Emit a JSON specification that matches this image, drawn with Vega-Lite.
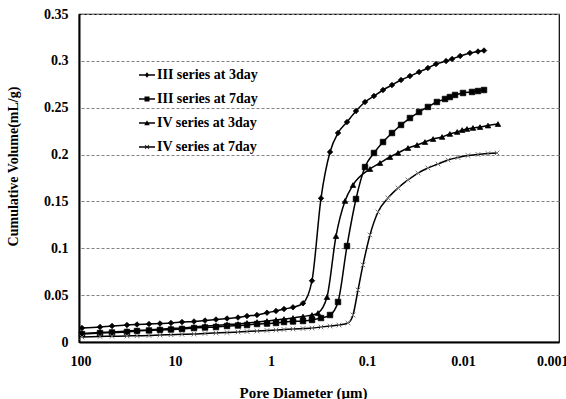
{
  "$schema": "https://vega.github.io/schema/vega-lite/v6.json",
  "width": 480,
  "height": 328,
  "autosize": {"type": "none"},
  "padding": {"left": 79, "top": 14, "right": 7, "bottom": 57},
  "background": "white",
  "config": {
    "font": "Liberation Serif",
    "view": {"stroke": "black", "strokeWidth": 1.2},
    "axis": {
      "labelFont": "Liberation Serif",
      "labelFontWeight": "bold",
      "labelFontSize": 14,
      "labelColor": "black",
      "titleFont": "Liberation Serif",
      "titleFontWeight": "bold",
      "titleFontSize": 15,
      "titleColor": "black",
      "ticks": false,
      "domainColor": "black",
      "domainWidth": 2
    }
  },
  "data": {
    "values": [
      {"s": "III series at 3day", "d": 93.05, "v": 0.0149},
      {"s": "III series at 3day", "d": 60.43, "v": 0.0160},
      {"s": "III series at 3day", "d": 45.32, "v": 0.0171},
      {"s": "III series at 3day", "d": 31.62, "v": 0.0181},
      {"s": "III series at 3day", "d": 24.88, "v": 0.0187},
      {"s": "III series at 3day", "d": 18.66, "v": 0.0192},
      {"s": "III series at 3day", "d": 14.33, "v": 0.0197},
      {"s": "III series at 3day", "d": 11.01, "v": 0.0203},
      {"s": "III series at 3day", "d": 8.456, "v": 0.0213},
      {"s": "III series at 3day", "d": 6.341, "v": 0.0219},
      {"s": "III series at 3day", "d": 4.870, "v": 0.0229},
      {"s": "III series at 3day", "d": 3.741, "v": 0.0240},
      {"s": "III series at 3day", "d": 2.873, "v": 0.0251},
      {"s": "III series at 3day", "d": 2.207, "v": 0.0261},
      {"s": "III series at 3day", "d": 1.778, "v": 0.0277},
      {"s": "III series at 3day", "d": 1.399, "v": 0.0288},
      {"s": "III series at 3day", "d": 1.101, "v": 0.0313},
      {"s": "III series at 3day", "d": 0.8869, "v": 0.0331},
      {"s": "III series at 3day", "d": 0.7320, "v": 0.0352},
      {"s": "III series at 3day", "d": 0.5899, "v": 0.0370},
      {"s": "III series at 3day", "d": 0.4642, "v": 0.0413},
      {"s": "III series at 3day", "d": 0.3741, "v": 0.0654},
      {"s": "III series at 3day", "d": 0.3015, "v": 0.1533},
      {"s": "III series at 3day", "d": 0.2428, "v": 0.2027},
      {"s": "III series at 3day", "d": 0.2004, "v": 0.2230},
      {"s": "III series at 3day", "d": 0.1616, "v": 0.2347},
      {"s": "III series at 3day", "d": 0.1302, "v": 0.2465},
      {"s": "III series at 3day", "d": 0.1049, "v": 0.2561},
      {"s": "III series at 3day", "d": 0.0846, "v": 0.2625},
      {"s": "III series at 3day", "d": 0.0681, "v": 0.2689},
      {"s": "III series at 3day", "d": 0.0549, "v": 0.2742},
      {"s": "III series at 3day", "d": 0.0442, "v": 0.2796},
      {"s": "III series at 3day", "d": 0.0357, "v": 0.2838},
      {"s": "III series at 3day", "d": 0.0287, "v": 0.2881},
      {"s": "III series at 3day", "d": 0.0232, "v": 0.2924},
      {"s": "III series at 3day", "d": 0.0191, "v": 0.2966},
      {"s": "III series at 3day", "d": 0.0150, "v": 0.2998},
      {"s": "III series at 3day", "d": 0.0130, "v": 0.3020},
      {"s": "III series at 3day", "d": 0.0107, "v": 0.3052},
      {"s": "III series at 3day", "d": 0.00846, "v": 0.3084},
      {"s": "III series at 3day", "d": 0.00698, "v": 0.3100},
      {"s": "III series at 3day", "d": 0.00604, "v": 0.3110},

      {"s": "III series at 7day", "d": 93.05, "v": 0.0085},
      {"s": "III series at 7day", "d": 60.43, "v": 0.0096},
      {"s": "III series at 7day", "d": 45.32, "v": 0.0101},
      {"s": "III series at 7day", "d": 31.62, "v": 0.0107},
      {"s": "III series at 7day", "d": 24.88, "v": 0.0117},
      {"s": "III series at 7day", "d": 18.66, "v": 0.0123},
      {"s": "III series at 7day", "d": 14.33, "v": 0.0128},
      {"s": "III series at 7day", "d": 11.01, "v": 0.0133},
      {"s": "III series at 7day", "d": 8.456, "v": 0.0139},
      {"s": "III series at 7day", "d": 6.341, "v": 0.0149},
      {"s": "III series at 7day", "d": 4.870, "v": 0.0155},
      {"s": "III series at 7day", "d": 3.741, "v": 0.0160},
      {"s": "III series at 7day", "d": 2.873, "v": 0.0171},
      {"s": "III series at 7day", "d": 2.207, "v": 0.0176},
      {"s": "III series at 7day", "d": 1.778, "v": 0.0181},
      {"s": "III series at 7day", "d": 1.399, "v": 0.0192},
      {"s": "III series at 7day", "d": 1.101, "v": 0.0197},
      {"s": "III series at 7day", "d": 0.8869, "v": 0.0203},
      {"s": "III series at 7day", "d": 0.7320, "v": 0.0213},
      {"s": "III series at 7day", "d": 0.5899, "v": 0.0219},
      {"s": "III series at 7day", "d": 0.4642, "v": 0.0224},
      {"s": "III series at 7day", "d": 0.3741, "v": 0.0235},
      {"s": "III series at 7day", "d": 0.3015, "v": 0.0256},
      {"s": "III series at 7day", "d": 0.2428, "v": 0.0288},
      {"s": "III series at 7day", "d": 0.2004, "v": 0.0427},
      {"s": "III series at 7day", "d": 0.1616, "v": 0.1024},
      {"s": "III series at 7day", "d": 0.1302, "v": 0.1526},
      {"s": "III series at 7day", "d": 0.1049, "v": 0.1867},
      {"s": "III series at 7day", "d": 0.0846, "v": 0.2017},
      {"s": "III series at 7day", "d": 0.0681, "v": 0.2134},
      {"s": "III series at 7day", "d": 0.0549, "v": 0.2230},
      {"s": "III series at 7day", "d": 0.0442, "v": 0.2316},
      {"s": "III series at 7day", "d": 0.0357, "v": 0.2390},
      {"s": "III series at 7day", "d": 0.0287, "v": 0.2454},
      {"s": "III series at 7day", "d": 0.0232, "v": 0.2508},
      {"s": "III series at 7day", "d": 0.0187, "v": 0.2561},
      {"s": "III series at 7day", "d": 0.0154, "v": 0.2593},
      {"s": "III series at 7day", "d": 0.0137, "v": 0.2614},
      {"s": "III series at 7day", "d": 0.0121, "v": 0.2636},
      {"s": "III series at 7day", "d": 0.0100, "v": 0.2657},
      {"s": "III series at 7day", "d": 0.00806, "v": 0.2668},
      {"s": "III series at 7day", "d": 0.00698, "v": 0.2678},
      {"s": "III series at 7day", "d": 0.00604, "v": 0.2689},

      {"s": "IV series at 3day", "d": 93.05, "v": 0.0091},
      {"s": "IV series at 3day", "d": 60.43, "v": 0.0101},
      {"s": "IV series at 3day", "d": 45.32, "v": 0.0107},
      {"s": "IV series at 3day", "d": 31.62, "v": 0.0117},
      {"s": "IV series at 3day", "d": 24.88, "v": 0.0123},
      {"s": "IV series at 3day", "d": 18.66, "v": 0.0128},
      {"s": "IV series at 3day", "d": 14.33, "v": 0.0139},
      {"s": "IV series at 3day", "d": 11.01, "v": 0.0144},
      {"s": "IV series at 3day", "d": 8.456, "v": 0.0149},
      {"s": "IV series at 3day", "d": 6.341, "v": 0.0160},
      {"s": "IV series at 3day", "d": 4.870, "v": 0.0171},
      {"s": "IV series at 3day", "d": 3.741, "v": 0.0176},
      {"s": "IV series at 3day", "d": 2.873, "v": 0.0187},
      {"s": "IV series at 3day", "d": 2.207, "v": 0.0192},
      {"s": "IV series at 3day", "d": 1.778, "v": 0.0203},
      {"s": "IV series at 3day", "d": 1.399, "v": 0.0213},
      {"s": "IV series at 3day", "d": 1.101, "v": 0.0224},
      {"s": "IV series at 3day", "d": 0.8869, "v": 0.0235},
      {"s": "IV series at 3day", "d": 0.7320, "v": 0.0245},
      {"s": "IV series at 3day", "d": 0.5899, "v": 0.0256},
      {"s": "IV series at 3day", "d": 0.4642, "v": 0.0272},
      {"s": "IV series at 3day", "d": 0.3741, "v": 0.0288},
      {"s": "IV series at 3day", "d": 0.3240, "v": 0.0309},
      {"s": "IV series at 3day", "d": 0.2610, "v": 0.0480},
      {"s": "IV series at 3day", "d": 0.2103, "v": 0.1131},
      {"s": "IV series at 3day", "d": 0.1695, "v": 0.1505},
      {"s": "IV series at 3day", "d": 0.1399, "v": 0.1675},
      {"s": "IV series at 3day", "d": 0.0931, "v": 0.1846},
      {"s": "IV series at 3day", "d": 0.0732, "v": 0.1910},
      {"s": "IV series at 3day", "d": 0.0576, "v": 0.1974},
      {"s": "IV series at 3day", "d": 0.0475, "v": 0.2017},
      {"s": "IV series at 3day", "d": 0.0374, "v": 0.2070},
      {"s": "IV series at 3day", "d": 0.0301, "v": 0.2102},
      {"s": "IV series at 3day", "d": 0.0249, "v": 0.2134},
      {"s": "IV series at 3day", "d": 0.0205, "v": 0.2166},
      {"s": "IV series at 3day", "d": 0.0165, "v": 0.2188},
      {"s": "IV series at 3day", "d": 0.0137, "v": 0.2220},
      {"s": "IV series at 3day", "d": 0.0115, "v": 0.2241},
      {"s": "IV series at 3day", "d": 0.0102, "v": 0.2262},
      {"s": "IV series at 3day", "d": 0.00909, "v": 0.2273},
      {"s": "IV series at 3day", "d": 0.00787, "v": 0.2284},
      {"s": "IV series at 3day", "d": 0.00665, "v": 0.2294},
      {"s": "IV series at 3day", "d": 0.00549, "v": 0.2310},
      {"s": "IV series at 3day", "d": 0.00432, "v": 0.2326},

      {"s": "IV series at 7day", "d": 93.05, "v": 0.0053},
      {"s": "IV series at 7day", "d": 60.43, "v": 0.0059},
      {"s": "IV series at 7day", "d": 45.32, "v": 0.0061},
      {"s": "IV series at 7day", "d": 31.62, "v": 0.0064},
      {"s": "IV series at 7day", "d": 24.88, "v": 0.0067},
      {"s": "IV series at 7day", "d": 18.66, "v": 0.0069},
      {"s": "IV series at 7day", "d": 14.33, "v": 0.0075},
      {"s": "IV series at 7day", "d": 11.01, "v": 0.0078},
      {"s": "IV series at 7day", "d": 8.456, "v": 0.0082},
      {"s": "IV series at 7day", "d": 6.341, "v": 0.0085},
      {"s": "IV series at 7day", "d": 4.870, "v": 0.0091},
      {"s": "IV series at 7day", "d": 3.741, "v": 0.0096},
      {"s": "IV series at 7day", "d": 2.873, "v": 0.0101},
      {"s": "IV series at 7day", "d": 2.207, "v": 0.0107},
      {"s": "IV series at 7day", "d": 1.778, "v": 0.0112},
      {"s": "IV series at 7day", "d": 1.399, "v": 0.0117},
      {"s": "IV series at 7day", "d": 1.101, "v": 0.0123},
      {"s": "IV series at 7day", "d": 0.8869, "v": 0.0128},
      {"s": "IV series at 7day", "d": 0.7320, "v": 0.0133},
      {"s": "IV series at 7day", "d": 0.5899, "v": 0.0139},
      {"s": "IV series at 7day", "d": 0.4642, "v": 0.0144},
      {"s": "IV series at 7day", "d": 0.3741, "v": 0.0149},
      {"s": "IV series at 7day", "d": 0.3015, "v": 0.0160},
      {"s": "IV series at 7day", "d": 0.2428, "v": 0.0171},
      {"s": "IV series at 7day", "d": 0.1957, "v": 0.0181},
      {"s": "IV series at 7day", "d": 0.1577, "v": 0.0203},
      {"s": "IV series at 7day", "d": 0.1399, "v": 0.0288},
      {"s": "IV series at 7day", "d": 0.1241, "v": 0.0555},
      {"s": "IV series at 7day", "d": 0.1101, "v": 0.0822},
      {"s": "IV series at 7day", "d": 0.0931, "v": 0.1142},
      {"s": "IV series at 7day", "d": 0.0768, "v": 0.1387},
      {"s": "IV series at 7day", "d": 0.0604, "v": 0.1537},
      {"s": "IV series at 7day", "d": 0.0475, "v": 0.1643},
      {"s": "IV series at 7day", "d": 0.0374, "v": 0.1729},
      {"s": "IV series at 7day", "d": 0.0294, "v": 0.1803},
      {"s": "IV series at 7day", "d": 0.0232, "v": 0.1857},
      {"s": "IV series at 7day", "d": 0.0182, "v": 0.1899},
      {"s": "IV series at 7day", "d": 0.0143, "v": 0.1942},
      {"s": "IV series at 7day", "d": 0.0113, "v": 0.1969},
      {"s": "IV series at 7day", "d": 0.00887, "v": 0.1990},
      {"s": "IV series at 7day", "d": 0.00698, "v": 0.2001},
      {"s": "IV series at 7day", "d": 0.00549, "v": 0.2011},
      {"s": "IV series at 7day", "d": 0.00442, "v": 0.2017}
    ]
  },
  "encoding": {
    "x": {
      "field": "d",
      "type": "quantitative",
      "scale": {"type": "log", "domain": [0.001, 100], "reverse": true},
      "axis": {
        "title": "Pore Diameter (μm)",
        "values": [100, 10, 1, 0.1, 0.01, 0.001],
        "labelExpr": "format(datum.value, '~g')",
        "labelPadding": 12,
        "labelFlush": true,
        "labelFlushOffset": 9,
        "labelOverlap": false,
        "grid": false,
        "titleX": 224,
        "titleY": 50,
        "titleAlign": "center",
        "titleBaseline": "middle"
      }
    },
    "y": {
      "field": "v",
      "type": "quantitative",
      "scale": {"domain": [0, 0.35]},
      "axis": {
        "title": "Cumulative Volume(mL/g)",
        "values": [0, 0.05, 0.1, 0.15, 0.2, 0.25, 0.3, 0.35],
        "labelExpr": "format(datum.value, '~g')",
        "labelPadding": 11,
        "grid": true,
        "gridColor": "#808080",
        "gridDash": [3, 2],
        "gridWidth": 1,
        "titleFontSize": 14,
        "titleX": -66,
        "titleY": 152,
        "titleAlign": "center",
        "titleBaseline": "middle",
        "titleAngle": -90
      }
    }
  },
  "resolve": {"scale": {"shape": "independent"}, "legend": {"shape": "independent"}},
  "layer": [
    {
      "mark": {"type": "line", "color": "black", "strokeWidth": 1.5, "interpolate": "monotone"},
      "encoding": {"detail": {"field": "s", "type": "nominal"}}
    },
    {
      "transform": [{"filter": "datum.s !== 'IV series at 7day'"}],
      "mark": {"type": "point", "filled": true, "fill": "black", "stroke": "black", "strokeWidth": 0.8, "opacity": 1, "size": 30},
      "encoding": {
        "shape": {
          "field": "s",
          "type": "nominal",
          "scale": {
            "domain": ["III series at 3day", "III series at 7day", "IV series at 3day"],
            "range": ["diamond", "square", "triangle-up"]
          },
          "legend": null
        }
      }
    },
    {
      "transform": [{"filter": "datum.s === 'IV series at 7day'"}],
      "mark": {"type": "point", "filled": false, "stroke": "#777777", "strokeWidth": 1, "opacity": 1, "size": 22, "shape": "M-1,-1L1,1M-1,1L1,-1"},
      "encoding": {}
    },
    {
      "transform": [{"filter": "datum.d > 1000"}],
      "mark": {"type": "point", "filled": true, "color": "black", "opacity": 1, "size": 100},
      "encoding": {
        "shape": {
          "field": "s",
          "type": "nominal",
          "scale": {
            "domain": ["III series at 3day", "III series at 7day", "IV series at 3day", "IV series at 7day"],
            "range": [
              "M-1.6,-0.14H1.6V0.14H-1.6ZM0,-0.55L0.45,0L0,0.55L-0.45,0Z",
              "M-1.6,-0.14H1.6V0.14H-1.6ZM-0.5,-0.5H0.5V0.5H-0.5Z",
              "M-1.6,-0.14H1.6V0.14H-1.6ZM0,-0.55L0.55,0.45H-0.55Z",
              "M-1.6,-0.14H1.6V0.14H-1.6ZM-0.45,-0.35L-0.35,-0.45L0.45,0.35L0.35,0.45ZM-0.45,0.35L0.35,-0.45L0.45,-0.35L-0.35,0.45Z"
            ]
          },
          "legend": {
            "title": null,
            "orient": "none",
            "legendX": 61,
            "legendY": 54,
            "padding": 0,
            "rowPadding": 10,
            "labelFont": "Liberation Serif",
            "labelFontSize": 14,
            "labelFontWeight": "bold",
            "labelColor": "black",
            "labelOffset": 3,
            "symbolSize": 100,
            "symbolOpacity": 1,
            "symbolFillColor": "black",
            "values": ["III series at 3day", "III series at 7day", "IV series at 3day", "IV series at 7day"]
          }
        }
      }
    }
  ]
}
